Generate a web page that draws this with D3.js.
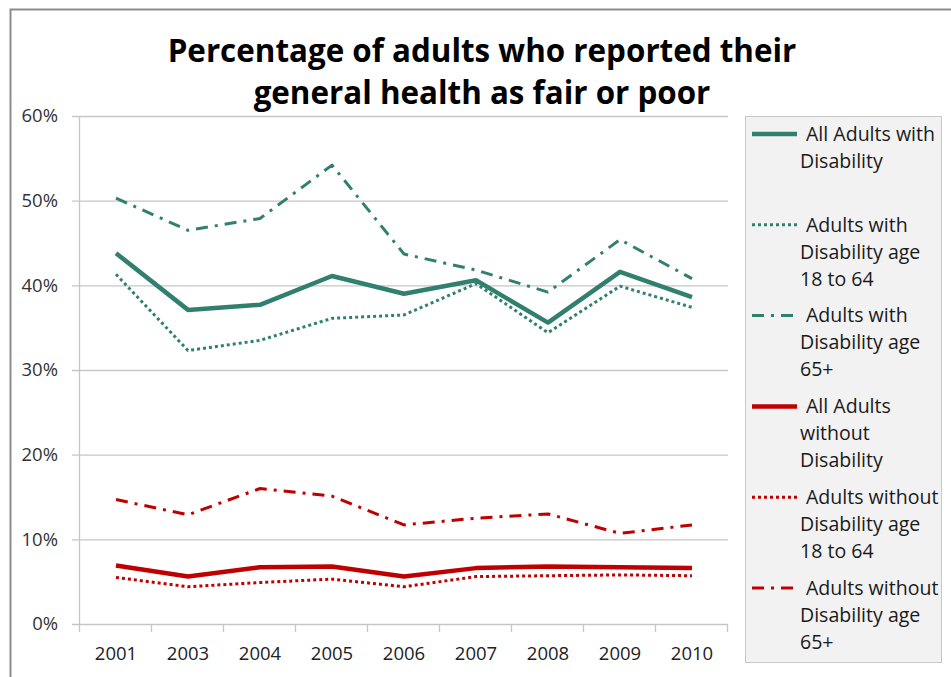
<!DOCTYPE html>
<html><head><meta charset="utf-8">
<script src="https://cdn.jsdelivr.net/npm/d3@7"></script>
<style>
html,body{margin:0;padding:0;background:#fff;}
svg{display:block;font-family:"Open Sans", Lato, sans-serif;}
</style></head>
<body>
<svg id="chart" width="951" height="677"></svg>
<script>
const years = ["2001","2003","2004","2005","2006","2007","2008","2009","2010"];
const withDisAll   = [43.8,37.1,37.7,41.1,39.0,40.6,35.6,41.6,38.6];
const withDis1864  = [41.3,32.3,33.5,36.1,36.5,40.2,34.4,39.9,37.4];
const withDis65    = [50.3,46.5,47.9,54.2,43.7,41.8,39.2,45.4,40.8];
const withoutAll   = [6.9,5.6,6.7,6.8,5.6,6.6,6.8,6.7,6.6];
const without1864  = [5.5,4.4,4.9,5.3,4.4,5.6,5.7,5.8,5.7];
const without65    = [14.7,12.9,16.0,15.1,11.7,12.5,13.0,10.7,11.7];
const yTicks = [0,10,20,30,40,50,60];
const titleLines = ["Percentage of adults who reported their","general health as fair or poor"];

const teal = "#31806f", red = "#c00000";
const series = [
  {name:["All Adults with","Disability"], values:withDisAll, color:teal, width:4.5, dash:null},
  {name:["Adults with","Disability age","18 to 64"], values:withDis1864, color:teal, width:3, dash:"3,3"},
  {name:["Adults with","Disability age","65+"], values:withDis65, color:teal, width:3, dash:"12,7,3,7"},
  {name:["All Adults","without","Disability"], values:withoutAll, color:red, width:4.5, dash:null},
  {name:["Adults without","Disability age","18 to 64"], values:without1864, color:red, width:3, dash:"3,3"},
  {name:["Adults without","Disability age","65+"], values:without65, color:red, width:3, dash:"12,7,3,7"}
];

const svg = d3.select("#chart");
function fit(sel, target){
  const w = sel.node().getComputedTextLength();
  const fs = parseFloat(sel.attr("font-size"));
  return fs*target/w;
}
// chart frame
svg.append("rect").attr("x",10.5).attr("y",9.5).attr("width",960).attr("height",700)
  .attr("fill","#fff").attr("stroke","#8c8c8c").attr("stroke-width",2);

const L=80, R=728, T=116, B=624;
const x = d3.scaleBand().domain(years).range([L,R]);
const y = d3.scaleLinear().domain([0,60]).range([B,T]);

// gridlines
svg.append("g").selectAll("line").data(yTicks).join("line")
  .attr("x1",L-8).attr("x2",R).attr("y1",d=>y(d)+0.5).attr("y2",d=>y(d)+0.5)
  .attr("stroke","#c6c6c6").attr("stroke-width",1.3);
svg.append("line").attr("x1",L-0.5).attr("x2",L-0.5).attr("y1",T).attr("y2",B+1)
  .attr("stroke","#c6c6c6").attr("stroke-width",1.3);
const xt = years.map(d=>x(d)).concat([R]);
svg.append("g").selectAll("line").data(xt).join("line")
  .attr("x1",d=>d-0.5).attr("x2",d=>d-0.5).attr("y1",B).attr("y2",B+8)
  .attr("stroke","#c6c6c6").attr("stroke-width",1.3);

// y labels
svg.append("g").selectAll("text").data(yTicks).join("text")
  .attr("x",58).attr("y",d=>y(d)).attr("dy","0.35em").attr("text-anchor","end")
  .attr("font-size",18.5).attr("fill","#333").text(d=>d+"%");
// x labels
svg.append("g").selectAll("text").data(years).join("text")
  .attr("x",d=>x(d)+x.bandwidth()/2).attr("y",660).attr("text-anchor","middle")
  .attr("font-size",18.5).attr("fill","#222").text(d=>d);

// lines
const line = d3.line().x((d,i)=>x(years[i])+x.bandwidth()/2).y(d=>y(d));
series.forEach(s=>{
  svg.append("path").datum(s.values).attr("d",line).attr("fill","none")
    .attr("stroke",s.color).attr("stroke-width",s.width)
    .attr("stroke-dasharray",s.dash).attr("stroke-linejoin","round");
});

// title
const tt = svg.append("g").selectAll("text").data(titleLines).join("text")
  .attr("x",482).attr("y",(d,i)=>62+i*42).attr("text-anchor","middle")
  .attr("font-size",30).attr("font-weight","bold").attr("fill","#000").text(d=>d);
const tfs = fit(d3.select(tt.nodes()[0]), 629);
tt.attr("font-size",tfs);

// legend
svg.append("rect").attr("x",745.5).attr("y",116.5).attr("width",196).attr("height",546)
  .attr("fill","#f2f2f2").attr("stroke","#c8c8c8");
const lg = svg.append("g");
series.forEach((s,i)=>{
  const ly = 134 + i*90.8;
  lg.append("line").attr("x1",752).attr("x2",797).attr("y1",ly).attr("y2",ly)
    .attr("stroke",s.color).attr("stroke-width",s.width).attr("stroke-dasharray",s.dash);
  s.name.forEach((t,j)=>{
    lg.append("text").attr("class","lt").attr("x",j===0?806:800).attr("y",ly+j*27).attr("dy","0.35em")
      .attr("font-size",18).attr("fill","#1a1a1a").text(t);
  });
});
const lfs = fit(lg.select("text.lt"), 129);
lg.selectAll("text.lt").attr("font-size",lfs);
</script>
</body></html>
